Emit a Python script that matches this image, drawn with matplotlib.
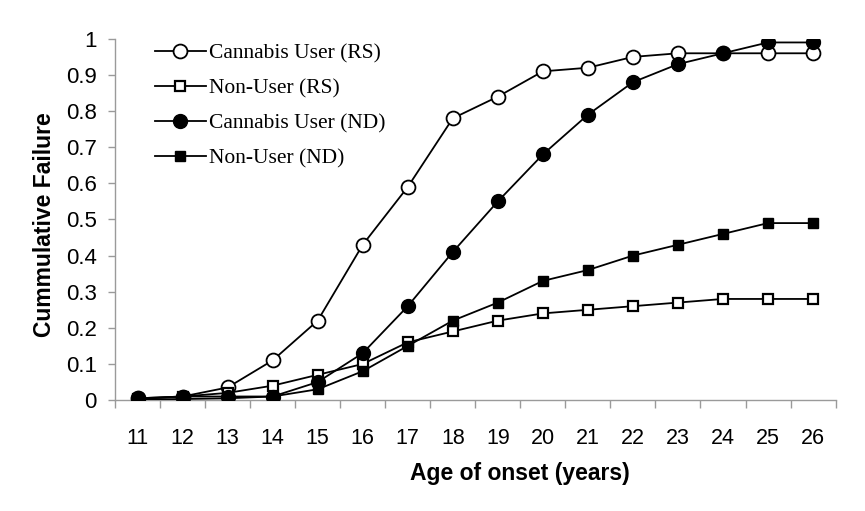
import matplotlib
matplotlib.use("Agg")
import matplotlib.pyplot as plt
import numpy as np

ages = [11, 12, 13, 14, 15, 16, 17, 18, 19, 20, 21, 22, 23, 24, 25, 26]
cannabis_rs = [0.005, 0.01, 0.035, 0.11, 0.22, 0.43, 0.59, 0.78, 0.84, 0.91, 0.92, 0.95, 0.96, 0.96, 0.96, 0.96]
nonuser_rs = [0.003, 0.01, 0.02, 0.04, 0.07, 0.10, 0.16, 0.19, 0.22, 0.24, 0.25, 0.26, 0.27, 0.28, 0.28, 0.28]
cannabis_nd = [0.005, 0.01, 0.01, 0.01, 0.05, 0.13, 0.26, 0.41, 0.55, 0.68, 0.79, 0.88, 0.93, 0.96, 0.99, 0.99]
nonuser_nd = [0.002, 0.003, 0.005, 0.01, 0.03, 0.08, 0.15, 0.22, 0.27, 0.33, 0.36, 0.40, 0.43, 0.46, 0.49, 0.49]
series_labels = ["Cannabis User (RS)", "Non-User (RS)", "Cannabis User (ND)", "Non-User (ND)"]
y_ticks = [0, 0.1, 0.2, 0.3, 0.4, 0.5, 0.6, 0.7, 0.8, 0.9, 1]
y_ticklabels = ["0", "0.1", "0.2", "0.3", "0.4", "0.5", "0.6", "0.7", "0.8", "0.9", "1"]

fig = plt.figure(figsize=(8.65, 5.11), dpi=100)
ax = fig.add_axes([0.133, 0.217, 0.833, 0.707])

lw = 1.3
ax.plot(ages, cannabis_rs, color="black", lw=lw, marker="o", ms=10, mfc="white", mec="black", mew=1.3, label=series_labels[0], zorder=3)
ax.plot(ages, nonuser_rs, color="black", lw=lw, marker="s", ms=7, mfc="white", mec="black", mew=1.6, label=series_labels[1], zorder=3)
ax.plot(ages, cannabis_nd, color="black", lw=lw, marker="o", ms=10, mfc="black", mec="black", label=series_labels[2], zorder=3)
ax.plot(ages, nonuser_nd, color="black", lw=lw, marker="s", ms=7.5, mfc="black", mec="black", label=series_labels[3], zorder=3)

ax.set_xlim(ages[0] - 0.5, ages[-1] + 0.5)
ax.set_ylim(0, 1)
ax.set_yticks(y_ticks)
ax.set_yticklabels(y_ticklabels, fontsize=16, family="Liberation Sans")
ax.set_xticks(ages)
ax.set_xticklabels([str(a) for a in ages], fontsize=15.5, family="Liberation Sans")
ax.tick_params(axis="x", which="major", length=0, pad=20)
ax.set_xticks(np.arange(ages[0] - 0.5, ages[-1] + 1.0, 1.0), minor=True)
ax.tick_params(axis="x", which="minor", length=6, color="#9a9a9a", width=1)
ax.tick_params(axis="y", length=5, color="#9a9a9a", width=1, pad=8)

for s in ["top", "right"]:
    ax.spines[s].set_visible(False)
for s in ["left", "bottom"]:
    ax.spines[s].set_color("#9a9a9a")
    ax.spines[s].set_linewidth(1)

ax.set_xlabel("Age of onset (years)", fontsize=16.5, fontweight="bold", family="Liberation Sans")
ax.xaxis.set_label_coords(0.562, -0.172)
ax.set_ylabel("Cummulative Failure", fontsize=16.5, fontweight="bold", family="Liberation Sans")
ax.yaxis.set_label_coords(-0.082, 0.487)

leg = ax.legend(loc="upper left", bbox_to_anchor=(0.031, 1.035), frameon=False,
                prop={"family": "Liberation Serif", "size": 15.5}, handlelength=2.4,
                labelspacing=0.7, handletextpad=0.15, borderpad=0.3)

fig.savefig("out.png", dpi=100)
